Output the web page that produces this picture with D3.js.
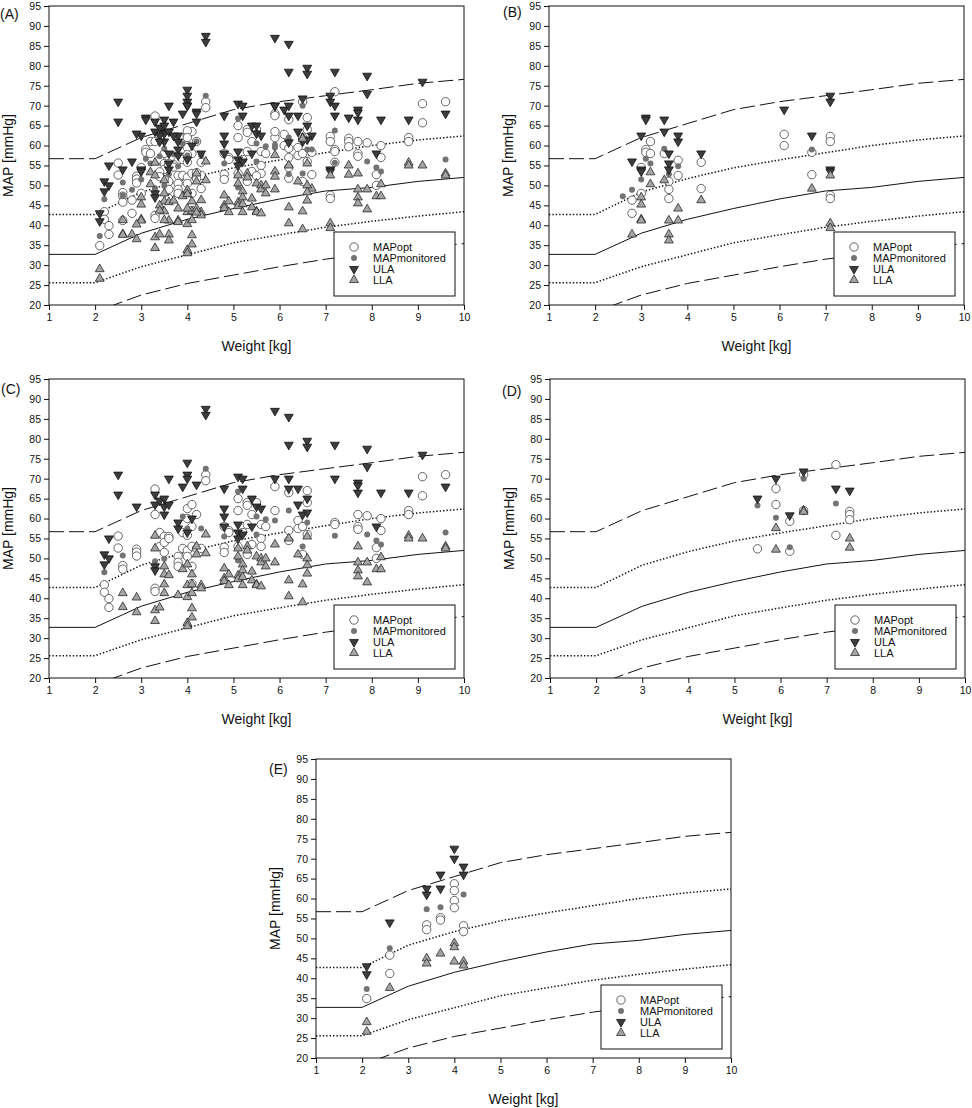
<!DOCTYPE html>
<html>
<head>
<meta charset="utf-8">
<script src="https://cdn.jsdelivr.net/npm/d3@7"></script>
<style>
  body { margin: 0; background: #fff; }
  svg { display: block; }
  text { font-family: "Liberation Sans", Arial, sans-serif; fill: #111; }
</style>
</head>
<body>
<svg id="chart"></svg>
<script>
// ---- axes ----
const xTicks = [1, 2, 3, 4, 5, 6, 7, 8, 9, 10];
const yTicks = [20, 25, 30, 35, 40, 45, 50, 55, 60, 65, 70, 75, 80, 85, 90, 95];
const seriesNames = ["MAPopt", "MAPmonitored", "ULA", "LLA"];

// ---- reference curves (weight knots, MAP values) ----
const refWeights = [1, 2, 3, 4, 5, 6, 7, 8, 9, 10];
const dashHigh = [56.7, 56.7, 62, 65.5, 69, 71, 72.5, 74, 75.6, 76.6];
const dotHigh  = [42.7, 42.7, 48.3, 51.7, 54.4, 56.4, 58.2, 60, 61.4, 62.4];
const solidMid = [32.7, 32.7, 38, 41.5, 44.2, 46.6, 48.6, 49.5, 51, 52];
const dotLow   = [25.6, 25.6, 29.6, 32.6, 35.6, 37.6, 39.5, 41, 42.3, 43.4];
const dashLow  = [18.3, 18.3, 22.5, 25.4, 27.5, 29.6, 31.5, 33, 34.3, 35.4];

// ---- panel B ----
const B_MAPopt = [[2.8,46.3],[2.8,43],[3.0,54.5],[3.0,48],[3.1,59],[3.1,58.3],[3.2,61],[3.2,58],[3.5,58],
  [3.6,51],[3.6,49],[3.6,46.7],[3.8,56.3],[3.8,52.5],[4.3,55.8],[4.3,49.2],[6.1,62.8],[6.1,60],
  [6.7,58.3],[6.7,52.7],[7.1,62.3],[7.1,61],[7.1,47.5],[7.1,46.7]];
const B_MAPmon = [[2.6,47.3],[2.8,48.9],[3.0,51.5],[3.1,56.7],[3.2,55.5],[3.5,59.2],[3.6,52.8],[3.8,54.8],[6.7,59]];
const B_ULA = [[2.8,56],[3.0,62.5],[3.0,54],[3.0,53.5],[3.1,67],[3.1,66.5],[3.5,66.5],[3.5,63.5],[3.6,58],
  [3.6,55.5],[3.6,54],[3.8,62.5],[3.8,61],[4.3,58],[6.1,69],[6.7,62.5],[7.1,72.5],[7.1,71],[7.1,54],[7.1,53.5]];
const B_LLA = [[2.8,37.7],[3.0,47],[3.0,45.2],[3.0,41.5],[3.0,41.2],[3.2,53.3],[3.2,50.3],[3.5,51.3],[3.6,41.2],
  [3.6,37.7],[3.6,36.2],[3.8,44.2],[3.8,41.2],[4.3,46.3],[6.7,49.2],[7.1,52.5],[7.1,40.5],[7.1,39.3]];

// ---- panel C ----
const C_MAPopt = [[2.2,43.4],[2.2,41.5],[2.3,39.9],[2.3,37.7],[2.5,55.6],[2.5,52.6],[2.6,48.2],[2.6,47.3],
  [2.9,52.3],[2.9,51.6],[2.9,50.6],[3.3,67.4],[3.3,61],[3.3,42.5],[3.3,41.7],[3.4,56.5],[3.4,53],[3.5,55.5],
  [3.5,54],[3.5,51.5],[3.6,55.5],[3.6,55],[3.8,50.5],[3.8,49],[3.8,48],[3.9,56.5],[3.9,52.5],[4.0,62.5],
  [4.0,60],[4.0,55.8],[4.0,52],[4.0,50.5],[4.1,63.5],[4.1,58],[4.1,53],[4.1,48],[4.1,43.7],[4.2,61],[4.2,52.5],
  [4.3,52.5],[4.4,71],[4.4,69.5],[4.8,58],[4.8,52.8],[4.8,51.5],[4.9,57],[4.9,56.5],[5.1,65],[5.1,62],[5.1,53],
  [5.2,56.5],[5.3,64],[5.3,63.3],[5.3,58.5],[5.3,51],[5.4,61],[5.4,53.5],[5.5,64],[5.6,58.5],[5.6,55],[5.6,53],
  [5.7,58],[5.9,68],[5.9,62],[6.2,66.5],[6.2,57],[6.2,54.5],[6.4,59.5],[6.4,57.5],[6.5,58],[6.5,51],[6.6,67],
  [6.6,64],[6.6,56],[7.2,59],[7.2,58.5],[7.7,61],[7.7,58],[7.7,57.3],[7.9,60.7],[8.1,52.7],[8.1,50],[8.2,60],
  [8.2,57],[8.8,62],[8.8,61],[9.1,70.5],[9.1,65.7],[9.6,71]];
const C_MAPmon = [[2.2,46.5],[2.6,50.7],[3.3,49.3],[3.5,49.9],[3.9,60.5],[4.0,57.5],[4.3,57.5],[4.4,72.5],
  [4.8,55.5],[5.1,66.8],[5.1,49.5],[5.5,60.5],[5.5,56],[5.7,59.8],[5.9,59.5],[6.2,62],[6.5,53],[6.6,59],
  [7.2,55.7],[7.9,56],[8.1,54.5],[8.2,53.5],[9.6,56.5]];
const C_ULA = [[2.2,51],[2.2,48.5],[2.3,55],[2.3,50],[2.5,71],[2.5,66],[2.9,63],[3.3,66],[3.3,63.5],[3.3,48],
  [3.3,47],[3.4,64.5],[3.5,65],[3.5,63],[3.5,61],[3.6,70],[3.6,63.5],[3.8,59],[3.8,57.5],[3.9,68],[4.0,74],
  [4.0,71],[4.0,70],[4.0,56.5],[4.1,60],[4.2,68.5],[4.4,87.5],[4.4,86],[4.8,67.5],[4.8,62.5],[4.8,60.5],
  [4.8,58],[5.1,70.5],[5.1,58.5],[5.1,56.5],[5.1,55],[5.2,70],[5.2,67.5],[5.2,56],[5.4,65],[5.4,58],[5.5,63],
  [5.6,62.5],[5.9,87],[5.9,70],[6.2,85.5],[6.2,78.5],[6.2,70],[6.2,67.5],[6.4,67.5],[6.4,63.5],[6.5,61],
  [6.6,79.5],[6.6,78],[6.6,65],[6.6,61.5],[7.2,78.5],[7.2,70],[7.7,69],[7.7,68.3],[7.7,66.5],[7.9,77.5],
  [7.9,73],[8.1,58],[8.2,66.5],[8.8,66.5],[9.1,76],[9.6,68]];
const C_LLA = [[2.6,41.3],[2.6,37.8],[2.9,40.2],[2.9,36.5],[3.3,55.7],[3.3,52.5],[3.3,37],[3.3,34.3],[3.4,37.7],
  [3.5,48],[3.5,46],[3.5,43.5],[3.5,41.3],[3.6,45.8],[3.8,40.8],[3.9,47.3],[4.0,48.5],[4.0,43.3],[4.0,40.3],
  [4.0,33.8],[4.0,33],[4.1,46],[4.1,43.5],[4.1,41.3],[4.1,37.5],[4.1,35.2],[4.2,53],[4.2,51],[4.3,43.3],
  [4.3,42.5],[4.4,56],[4.4,51.3],[4.8,47.5],[4.8,45],[4.8,44.3],[4.9,46],[4.9,43.3],[5.1,52.5],[5.1,50.5],
  [5.1,45.7],[5.1,44.8],[5.2,48.5],[5.2,47],[5.2,45.3],[5.2,43.3],[5.3,53],[5.3,52],[5.4,46.7],[5.4,44.5],
  [5.5,50.5],[5.5,43.5],[5.5,43.3],[5.6,50],[5.6,49],[5.6,43],[5.7,50],[5.7,48],[5.9,53.5],[5.9,49],[6.2,55],
  [6.2,44.5],[6.2,40.5],[6.4,51],[6.5,43.5],[6.5,39],[6.6,55.5],[6.6,50],[6.6,48.3],[6.6,46.2],[7.7,53],
  [7.7,49],[7.7,47],[7.7,45.5],[7.9,49],[7.9,44],[8.1,47.3],[8.2,50.3],[8.2,47.3],[8.8,55.7],[8.8,55],
  [9.1,55],[9.6,53],[9.6,52.5]];

// ---- panel D ----
const D_MAPopt = [[5.5,52.4],[5.9,67.5],[5.9,63.5],[6.2,59.3],[6.2,51.8],[6.5,71],[6.5,62],[7.2,73.5],
  [7.2,55.8],[7.5,61.8],[7.5,61],[7.5,59.7]];
const D_MAPmon = [[5.5,63.3],[5.9,60.2],[6.2,52.8],[6.5,70],[7.2,63.8]];
const D_ULA = [[5.5,65],[5.9,70],[6.2,60.8],[6.5,71.8],[7.2,67.5],[7.5,67]];
const D_LLA = [[5.9,57.6],[5.9,52.2],[6.5,62],[6.5,61.7],[7.5,55],[7.5,52.7]];

// ---- panel E ----
const E_MAPopt = [[2.1,34.9],[2.6,45.8],[2.6,41.2],[3.4,53.4],[3.4,52.2],[3.7,55.2],[3.7,54.6],[4.0,63.7],
  [4.0,62],[4.0,59.5],[4.0,57.7],[4.2,53.2],[4.2,51.7]];
const E_MAPmon = [[2.1,37.3],[2.6,47.5],[3.4,57.3],[3.7,57.8],[4.2,61]];
const E_ULA = [[2.1,43],[2.1,41],[2.6,54],[3.4,62.5],[3.4,61],[3.7,66],[3.7,62.5],[4.0,72.5],[4.0,70],[4.2,68],[4.2,66]];
const E_LLA = [[2.1,29],[2.1,26.6],[2.6,37.6],[3.4,45],[3.4,43.7],[3.7,46.2],[4.0,48.8],[4.0,47.8],[4.0,44.2],[4.2,44.2],[4.2,43.2]];

// panel A shows every patient, i.e. the subgroups B-E together
const A_MAPopt = [].concat(B_MAPopt, C_MAPopt, D_MAPopt, E_MAPopt);
const A_MAPmon = [].concat(B_MAPmon, C_MAPmon, D_MAPmon, E_MAPmon);
const A_ULA = [].concat(B_ULA, C_ULA, D_ULA, E_ULA);
const A_LLA = [].concat(B_LLA, C_LLA, D_LLA, E_LLA);

const W = 972, H = 1108;
const pw = 415, ph = 299;

const panels = [
  { name: "(A)", left: 49,  top: 6,   lab: [-49, 13], series: [A_MAPopt, A_MAPmon, A_ULA, A_LLA] },
  { name: "(B)", left: 549, top: 6,   lab: [-46, 11], series: [B_MAPopt, B_MAPmon, B_ULA, B_LLA] },
  { name: "(C)", left: 49,  top: 379, lab: [-48, 15], series: [C_MAPopt, C_MAPmon, C_ULA, C_LLA] },
  { name: "(D)", left: 550, top: 379, lab: [-48, 17], series: [D_MAPopt, D_MAPmon, D_ULA, D_LLA] },
  { name: "(E)", left: 316, top: 759, lab: [-47, 15], series: [E_MAPopt, E_MAPmon, E_ULA, E_LLA] }
];

const curves = [
  { values: dashHigh, dash: "15,5", width: 1 },
  { values: dotHigh,  dash: "1.4,2", width: 1.5 },
  { values: solidMid, dash: null, width: 1 },
  { values: dotLow,   dash: "1.4,2", width: 1.5 },
  { values: dashLow,  dash: "15,5", width: 1 }
];

const triUp = d3.symbol().type(d3.symbolTriangle).size(34);

const styles = [
  sel => sel.append("circle").attr("r", 4.2).attr("fill", "#fff").attr("stroke", "#555").attr("stroke-width", 0.9),
  sel => sel.append("circle").attr("r", 3).attr("fill", "#737373"),
  sel => sel.append("path").attr("d", triUp()).attr("transform", "rotate(180)")
            .attr("fill", "#3d3d3d").attr("stroke", "#111").attr("stroke-width", 0.8),
  sel => sel.append("path").attr("d", triUp())
            .attr("fill", "#a4a4a4").attr("stroke", "#2a2a2a").attr("stroke-width", 0.8)
];

const svg = d3.select("#chart").attr("width", W).attr("height", H);

panels.forEach((p, pi) => {
  const x = d3.scaleLinear().domain([1, 10]).range([0, pw]);
  const y = d3.scaleLinear().domain([20, 95]).range([ph, 0]);

  const g = svg.append("g").attr("transform", `translate(${p.left},${p.top})`);

  g.append("clipPath").attr("id", "clip" + pi)
    .append("rect").attr("width", pw).attr("height", ph);

  // reference curves
  const line = d3.line().x(d => x(d[0])).y(d => y(d[1]));
  g.append("g").attr("clip-path", `url(#clip${pi})`)
    .selectAll("path")
    .data(curves)
    .enter()
    .append("path")
    .attr("d", c => line(refWeights.map((w, i) => [w, c.values[i]])))
    .attr("fill", "none")
    .attr("stroke", "#111")
    .attr("stroke-width", c => c.width)
    .attr("stroke-dasharray", c => c.dash);

  // points
  p.series.forEach((data, si) => {
    const pts = g.append("g")
      .selectAll("g")
      .data(data)
      .enter()
      .append("g")
      .attr("transform", d => `translate(${x(d[0])},${y(d[1])})`);
    styles[si](pts);
  });

  // axes
  const xAxis = g.append("g").attr("transform", `translate(0,${ph})`)
    .call(d3.axisBottom(x).tickValues(xTicks).tickSize(5).tickPadding(4).tickFormat(d3.format("d")));
  const yAxis = g.append("g")
    .call(d3.axisLeft(y).tickValues(yTicks).tickSize(5).tickPadding(3).tickFormat(d3.format("d")));
  [xAxis, yAxis].forEach(a => {
    a.select(".domain").remove();
    a.selectAll("line").attr("stroke", "#111");
    a.selectAll("text").attr("font-size", 10.5).attr("fill", "#111")
      .style("font-family", "'Liberation Sans', Arial, sans-serif");
  });

  g.append("rect").attr("width", pw).attr("height", ph)
    .attr("fill", "none").attr("stroke", "#111").attr("stroke-width", 1);

  // titles
  g.append("text")
    .attr("x", pw / 2).attr("y", ph + 46)
    .attr("text-anchor", "middle").attr("font-size", 14)
    .text("Weight [kg]");
  g.append("text")
    .attr("transform", `translate(-36,${ph / 2}) rotate(-90)`)
    .attr("text-anchor", "middle").attr("font-size", 14)
    .text("MAP [mmHg]");
  g.append("text")
    .attr("x", p.lab[0]).attr("y", p.lab[1])
    .attr("font-size", 14)
    .text(p.name);

  // legend
  const lg = g.append("g").attr("transform", `translate(${pw - 130},${ph - 73})`);
  lg.append("rect").attr("width", 121).attr("height", 64)
    .attr("fill", "#fff").attr("stroke", "#111").attr("stroke-width", 1);
  const item = lg.selectAll(".item")
    .data(seriesNames)
    .enter()
    .append("g")
    .attr("class", "item")
    .attr("transform", (d, i) => `translate(20,${15 + i * 11})`);
  item.each(function (d, i) { styles[i](d3.select(this)); });
  item.append("text")
    .attr("x", 19).attr("y", 4)
    .attr("font-size", 11)
    .text(d => d);
});
</script>
</body>
</html>
